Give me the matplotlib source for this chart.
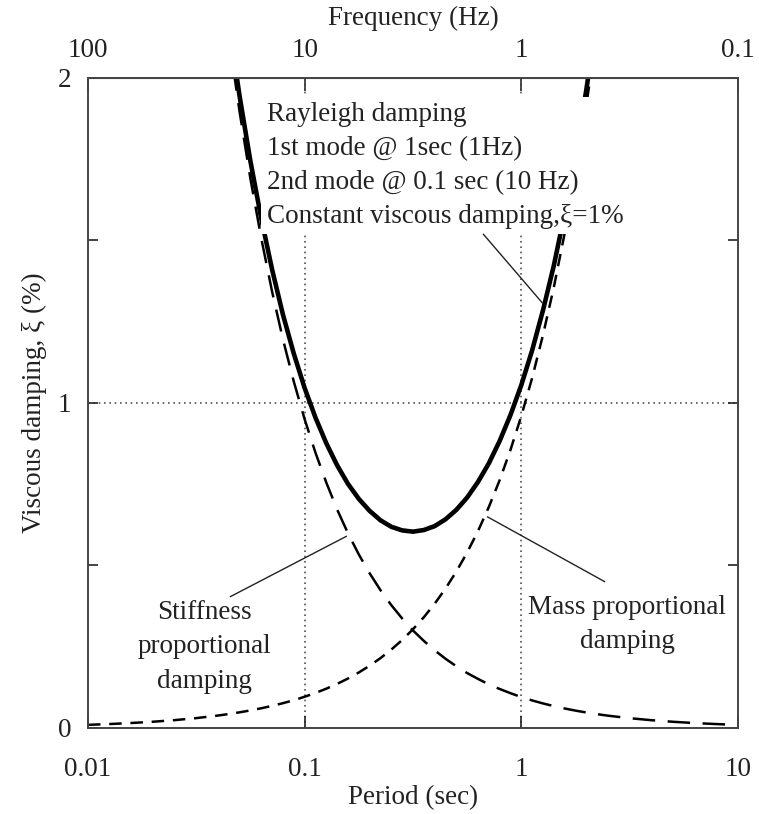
import numpy as np
import matplotlib
matplotlib.use("Agg")
import matplotlib.pyplot as plt

plt.rcParams['font.family'] = ['Liberation Serif', 'DejaVu Serif']
plt.rcParams['font.size'] = 19.5

# period (sec) and damping (%)
period = [0.0398, 0.0447, 0.0501, 0.0562, 0.0631, 0.0708, 0.0794, 0.0891,
          0.1, 0.1122, 0.1259, 0.1413, 0.1585, 0.1778, 0.1995, 0.2239, 0.2512, 0.2818,
          0.3162, 0.3548, 0.3981, 0.4467, 0.5012, 0.5623, 0.631, 0.7079, 0.7943, 0.8913,
          1.0, 1.122, 1.259, 1.413, 1.585, 1.778, 1.995, 2.239, 2.512]
stiffness = [2.387, 2.125, 1.896, 1.690, 1.506, 1.342, 1.196, 1.066,
             0.950, 0.847, 0.755, 0.672, 0.599, 0.534, 0.476, 0.424, 0.378, 0.337,
             0.300, 0.268, 0.239, 0.213, 0.190, 0.169, 0.151, 0.134, 0.120, 0.107,
             0.095, 0.0847, 0.0755, 0.0672, 0.0599, 0.0534, 0.0476, 0.0424, 0.0378]
mass = [0.0382, 0.0429, 0.0481, 0.0540, 0.0606, 0.0680, 0.0762, 0.0855,
        0.096, 0.1077, 0.1209, 0.1356, 0.1522, 0.1707, 0.1915, 0.2149, 0.2412, 0.2705,
        0.3036, 0.3406, 0.3822, 0.4288, 0.4812, 0.5398, 0.6058, 0.6796, 0.7625, 0.8556,
        0.96, 1.077, 1.209, 1.356, 1.522, 1.707, 1.915, 2.149, 2.412]
total = [2.425, 2.168, 1.944, 1.744, 1.567, 1.410, 1.272, 1.152,
         1.046, 0.955, 0.876, 0.808, 0.751, 0.705, 0.668, 0.639, 0.619, 0.608,
         0.604, 0.609, 0.621, 0.642, 0.671, 0.709, 0.757, 0.814, 0.883, 0.963,
         1.055, 1.162, 1.285, 1.423, 1.582, 1.760, 1.963, 2.191, 2.450]

# short-period end of the mass curve, long-period end of the stiffness curve
mass_head_T = [0.01, 0.0126, 0.0158, 0.02, 0.0251, 0.0316]
mass_head = [0.0096, 0.0121, 0.0152, 0.0192, 0.0241, 0.0303]
stiff_tail_T = [3.16, 3.98, 5.01, 6.31, 7.94, 8.8]
stiff_tail = [0.0301, 0.0239, 0.0190, 0.0151, 0.0120, 0.0108]

x_ticks = [0.01, 0.1, 1, 10]
x_labels = ['0.01', '0.1', '1', '10']
f_ticks = [100, 10, 1, 0.1]
f_labels = ['100', '10', '1', '0.1']

ink = '#222222'

fig = plt.figure(figsize=(7.59, 8.14), dpi=100)
ax = fig.add_axes([0.1159, 0.1057, 0.8564, 0.7985])

ax.plot(period + stiff_tail_T, stiffness + stiff_tail, color='black', lw=1.8,
        linestyle=(0, (9, 5)))
ax.plot(mass_head_T + period, mass_head + mass, color='black', lw=1.8,
        linestyle=(0, (5, 3.5)))
ax.plot(period, total, color='black', lw=3.3)

# dotted guide lines
for xv in [0.1, 1]:
    ax.axvline(xv, color='#555555', lw=1.2, linestyle=(0, (1, 2.2)), zorder=1)
ax.axhline(1, color='#555555', lw=1.2, linestyle=(0, (1, 2.2)), zorder=1)

ax.set_xscale('log')
ax.set_xlim(0.01, 10)
ax.set_ylim(0, 2)
ax.set_xticks(x_ticks)
ax.set_xticklabels(x_labels)
ax.xaxis.set_minor_locator(matplotlib.ticker.NullLocator())
ax.set_yticks([0, 0.5, 1, 1.5, 2])
ax.set_yticklabels(['0', '', '1', '', '2'])
ax.tick_params(axis='x', direction='in', length=9, width=1.2, pad=21, colors=ink)
ax.tick_params(axis='y', direction='in', length=7, width=1.2, right=True, pad=12, colors=ink)
for s in ax.spines.values():
    s.set_color('#444444')
    s.set_linewidth(1.4)

ax.set_xlabel('Period (sec)', color=ink, labelpad=2)
ax.set_ylabel('Viscous damping, ξ (%)', color=ink, labelpad=8)

top = ax.secondary_xaxis('top', functions=(lambda t: 1 / np.asarray(t), lambda f: 1 / np.asarray(f)))
top.set_xticks(f_ticks)
top.set_xticklabels(f_labels)
top.xaxis.set_minor_locator(matplotlib.ticker.NullLocator())
top.tick_params(direction='in', length=9, width=1.2, pad=11, colors=ink)
top.spines['top'].set_color('#444444')
top.set_xlabel('Frequency (Hz)', color=ink, labelpad=9)

ax.text(0.275, 0.963,
        'Rayleigh damping\n1st mode @ 1sec (1Hz)\n2nd mode @ 0.1 sec (10 Hz)\nConstant viscous damping,ξ=1%',
        transform=ax.transAxes, ha='left', va='top', linespacing=1.47, color=ink,
        bbox=dict(boxstyle='square,pad=0.2', facecolor='white', edgecolor='none'), zorder=5)

logT = np.log10(period)

def on_curve(t, series):
    return np.interp(np.log10(t), logT, series)

ax.annotate('', xy=(0.16, on_curve(0.16, stiffness)), xytext=(0.0442, 0.40),
            arrowprops=dict(arrowstyle='-', lw=1, color=ink))
ax.annotate('', xy=(0.68, on_curve(0.68, mass)), xytext=(2.49, 0.446),
            arrowprops=dict(arrowstyle='-', lw=1, color=ink))
ax.annotate('', xy=(1.276, on_curve(1.276, total)), xytext=(0.655, 1.526),
            arrowprops=dict(arrowstyle='-', lw=1, color=ink), zorder=6)

ax.text(0.0346, 0.25, 'Stiffness\nproportional\ndamping', ha='center', va='center',
        multialignment='center', linespacing=1.5, color=ink)
ax.text(3.08, 0.318, 'Mass proportional\ndamping', ha='center', va='center',
        multialignment='center', linespacing=1.5, color=ink)

fig.savefig('out.png', dpi=100)
